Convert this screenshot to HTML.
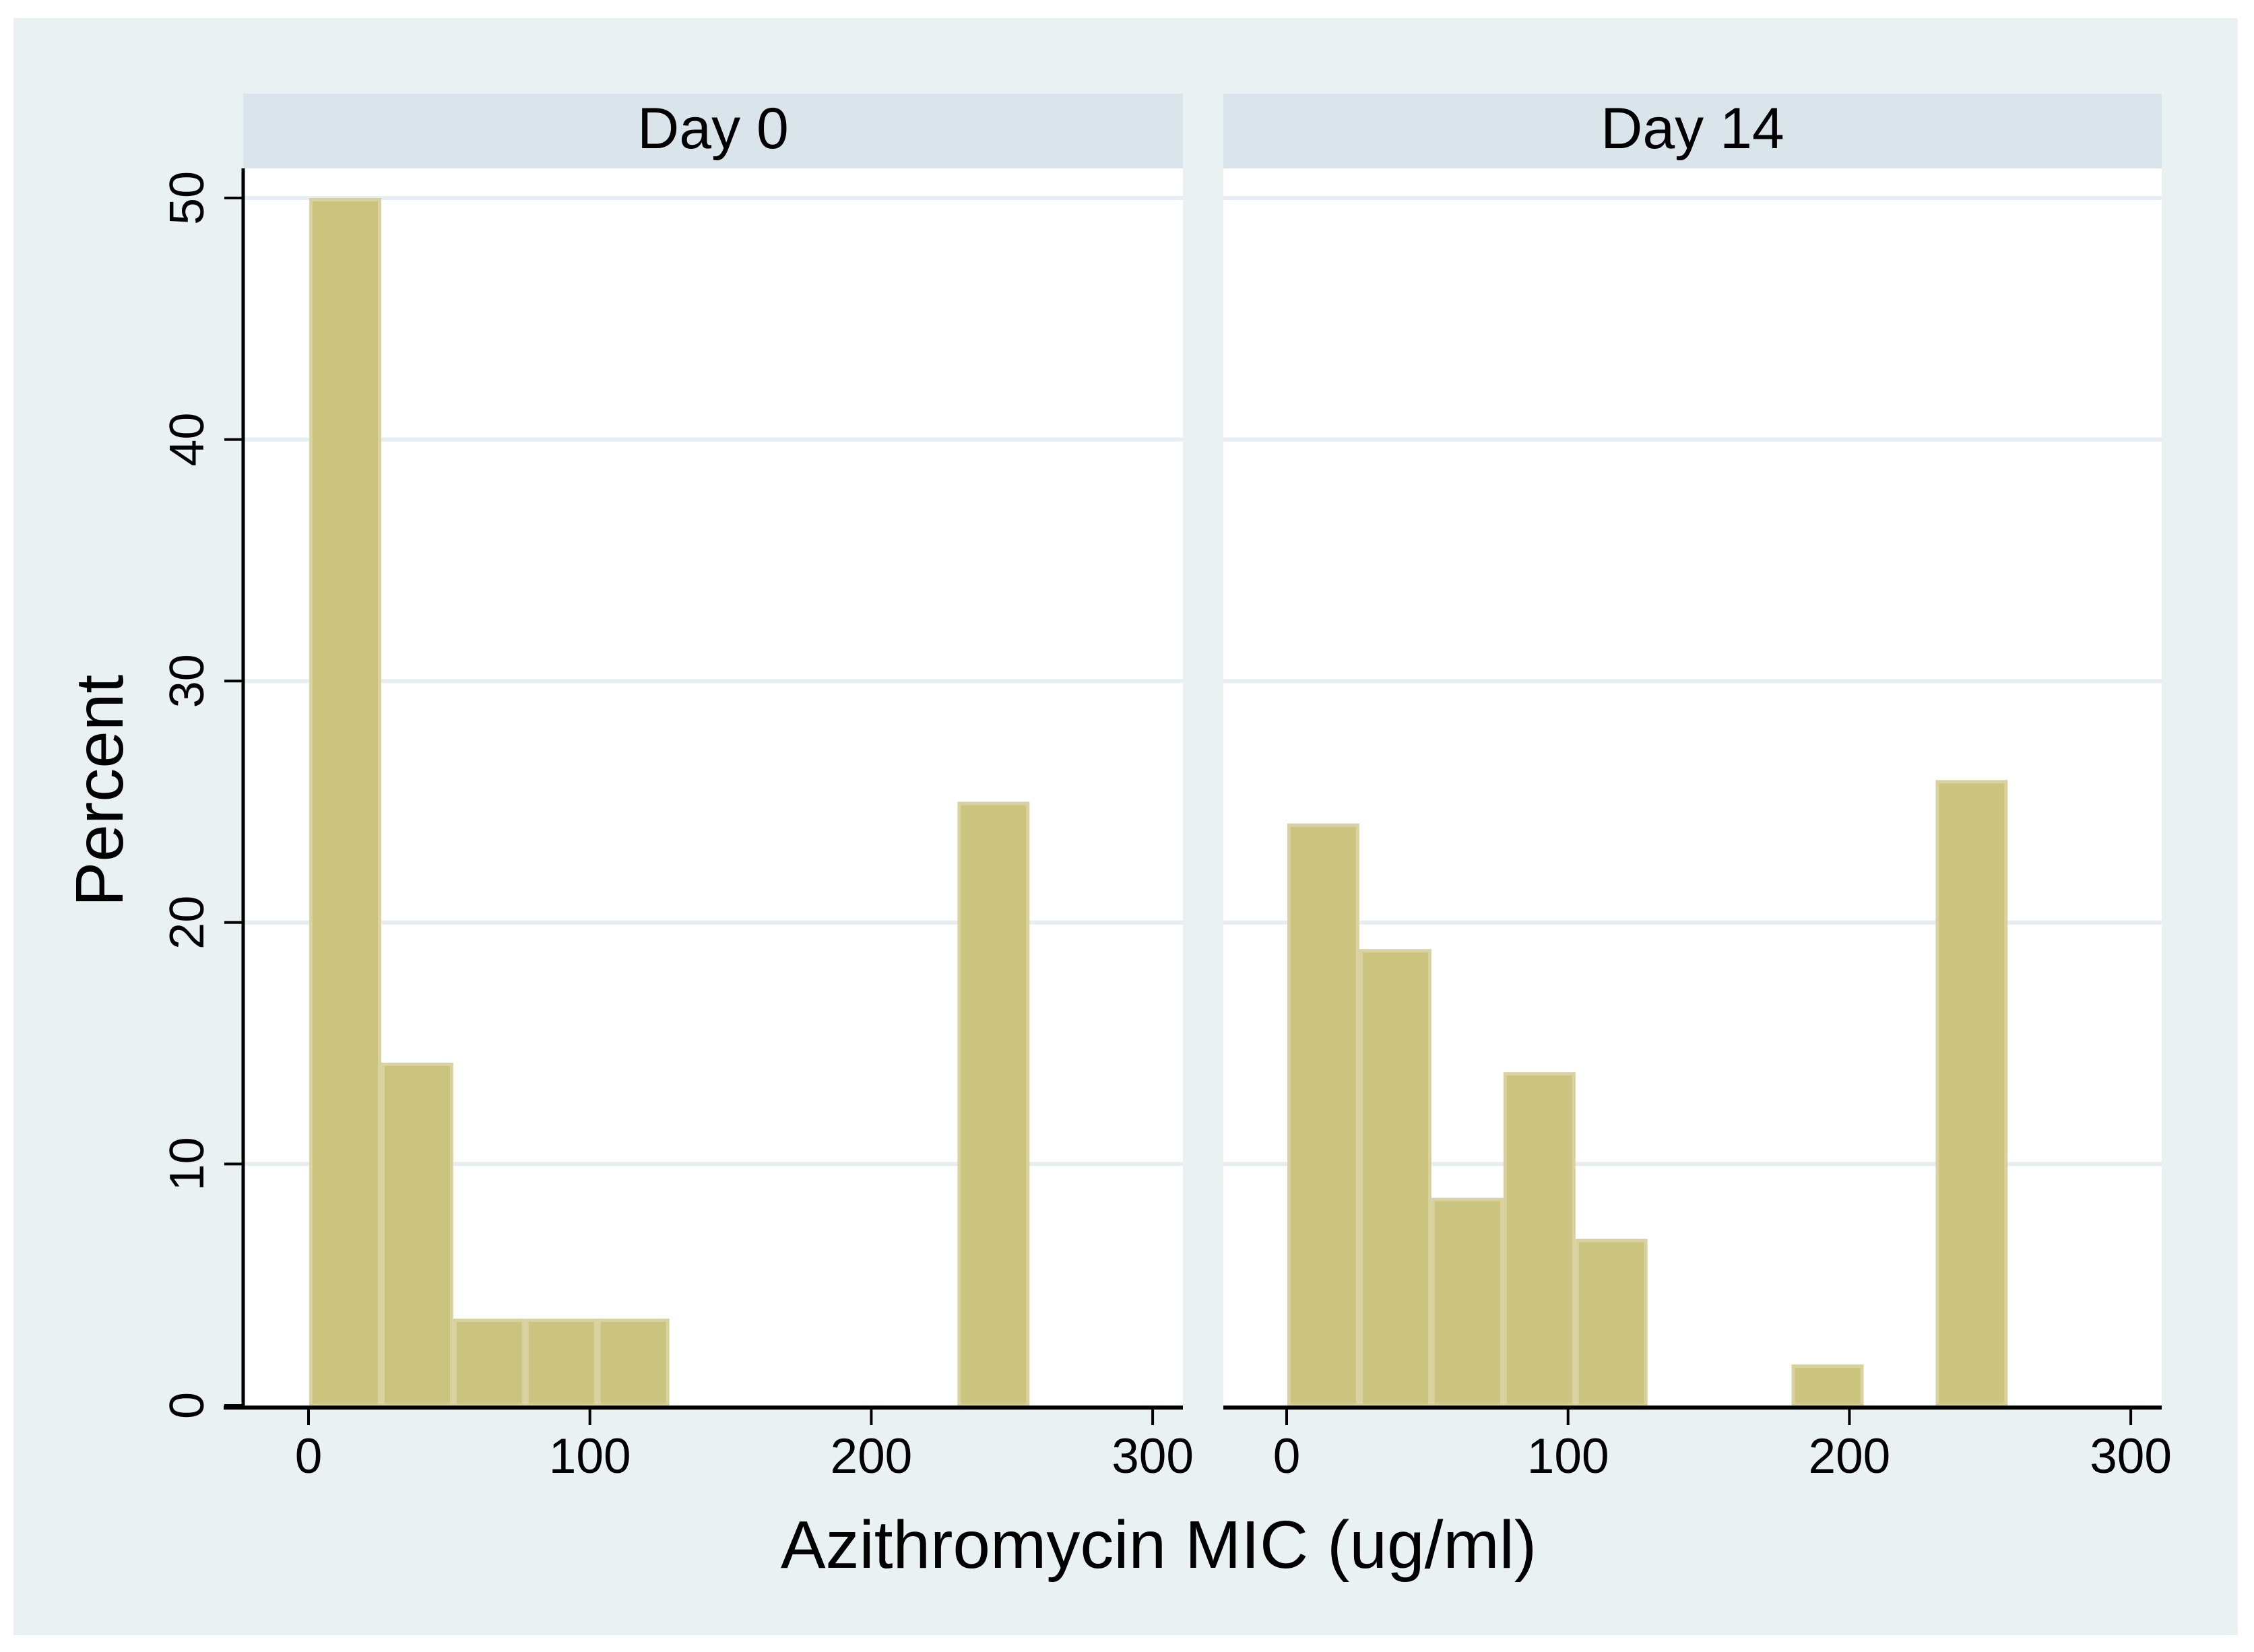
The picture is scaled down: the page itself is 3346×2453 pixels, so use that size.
<!DOCTYPE html>
<html><head><meta charset="utf-8"><style>
html,body{margin:0;padding:0;background:#fff;}
svg{display:block;font-family:"Liberation Sans",sans-serif;}
</style></head><body>
<svg id="chart" width="3346" height="2453" viewBox="0 0 3346 2453" xmlns="http://www.w3.org/2000/svg">
<rect x="20" y="27" width="3302" height="2401" fill="#e9f1f3"/>
<g id="panels"></g>
<text x="148" y="1174" font-size="100" text-anchor="middle" dominant-baseline="central" transform="rotate(-90 148 1174)">Percent</text>
<text x="1720" y="2328" font-size="100" text-anchor="middle">Azithromycin MIC (ug/ml)</text>
</svg>
<script>
const panelTitles = ["Day 0", "Day 14"];
const binStart = 0.25;
const binWidth = 25.6;
const day0Values = [50, 14.2, 3.6, 3.6, 3.6, 0, 0, 0, 0, 25];
const day14Values = [24.1, 18.9, 8.6, 13.8, 6.9, 0, 0, 1.7, 0, 25.9];
const yTicks = [0, 10, 20, 30, 40, 50];
const xTicks = [0, 100, 200, 300];

const NS = "http://www.w3.org/2000/svg";
const g = document.getElementById("panels");
const panels = [
  {left: 361, right: 1756, x0: 458, vals: day0Values, yaxis: true},
  {left: 1816, right: 3209, x0: 1910, vals: day14Values, yaxis: false}
];
const pxPerUnitX = 417.7 / 100;
const y0 = 2087, pxPerUnitY = (2087 - 294) / 50;
const yScale = v => y0 - v * pxPerUnitY;
function mk(tag, attrs){ const e = document.createElementNS(NS, tag); for (const k in attrs) e.setAttribute(k, attrs[k]); g.appendChild(e); return e; }

panels.forEach((p, pi) => {
  const xScale = v => p.x0 + v * pxPerUnitX;
  const pname = pi === 0 ? "day0" : "day14";
  let e = mk("rect", {x: p.left, y: 250, width: p.right - p.left, height: y0 - 250, fill: "#ffffff"});
  
  
  e = mk("rect", {x: p.left, y: 139, width: p.right - p.left, height: 111, fill: "#d9e5ea"});
  
  
  e = mk("text", {x: (p.left + p.right) / 2, y: 220, "font-size": 86, "text-anchor": "middle"});
  e.textContent = panelTitles[pi];
  
  
  yTicks.forEach(t => {
    if (t === 0) return;
    const gl = mk("line", {x1: p.left, x2: p.right, y1: yScale(t), y2: yScale(t), stroke: "#e6eef1", "stroke-width": 6});
    
    
  });
  p.vals.forEach((v, i) => {
    if (v <= 0) return;
    const xa = xScale(binStart + i * binWidth), xb = xScale(binStart + (i + 1) * binWidth);
    const b = mk("rect", {x: xa + 2.5, y: yScale(v) + 2.5, width: xb - xa - 5, height: y0 - yScale(v) - 2.5, fill: "#cbc47f", stroke: "#d9d2a0", "stroke-width": 5});
    
    
  });
  e = mk("line", {x1: pi === 0 ? 332 : p.left, x2: p.right, y1: y0 + 3, y2: y0 + 3, stroke: "#000", "stroke-width": 6});
  
  
  xTicks.forEach(t => {
    const tk = mk("line", {x1: xScale(t), x2: xScale(t), y1: y0, y2: y0 + 29, stroke: "#000", "stroke-width": 4});
    
    
    const tl = mk("text", {x: xScale(t), y: y0 + 100, "font-size": 73, "text-anchor": "middle"});
    tl.textContent = t;
    
    
  });
  if (p.yaxis) {
    e = mk("line", {x1: p.left, x2: p.left, y1: 250, y2: y0, stroke: "#000", "stroke-width": 5});
    
    
    yTicks.forEach(t => {
      const tk = mk("line", {x1: 333, x2: p.left, y1: yScale(t), y2: yScale(t), stroke: "#000", "stroke-width": 4});
      
      
      const tl = mk("text", {x: 278, y: yScale(t), "font-size": 72, "text-anchor": "middle", "dominant-baseline": "central", transform: "rotate(-90 278 " + yScale(t) + ")"});
      tl.textContent = t;
      
      
    });
  }
});
</script>
</body></html>
